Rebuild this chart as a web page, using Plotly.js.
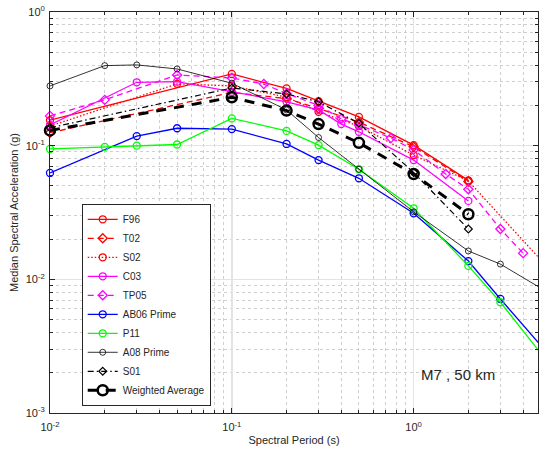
<!DOCTYPE html>
<html>
<head>
<meta charset="utf-8">
<script src="https://cdn.plot.ly/plotly-3.0.1.min.js"></script>
<style>html,body{margin:0;padding:0;background:#fff;}#chart{width:539px;height:454px;}</style>
</head>
<body>
<div id="chart"></div>
<script>
// ---- Data ----
var T_F96 = [0.01, 0.1, 0.2, 0.3, 0.5, 1, 2];
var SA_F96 = [0.155, 0.344, 0.268, 0.215, 0.164, 0.101, 0.055];

var T_T02 = [0.01, 0.1, 0.2, 0.3, 0.5, 1, 2];
var SA_T02 = [0.125, 0.25, 0.225, 0.19, 0.15, 0.098, 0.054];

var T_S02 = [0.01, 0.05, 0.1, 0.2, 0.3, 0.5, 1, 2, 5];
var SA_S02 = [0.14, 0.29, 0.28, 0.231, 0.179, 0.14, 0.085, 0.0544, 0.014];

var T_C03 = [0.01, 0.03, 0.05, 0.1, 0.2, 0.3, 0.4, 0.5, 1, 2];
var SA_C03 = [0.143, 0.298, 0.301, 0.252, 0.213, 0.185, 0.145, 0.127, 0.078, 0.0386];

var T_TP05 = [0.01, 0.02, 0.05, 0.1, 0.15, 0.2, 0.3, 0.4, 0.5, 0.75, 1, 1.5, 2, 3, 4];
var SA_TP05 = [0.167, 0.22, 0.338, 0.321, 0.289, 0.246, 0.20, 0.159, 0.143, 0.114, 0.093, 0.0614, 0.0472, 0.0238, 0.0157];

var T_AB06 = [0.01, 0.03, 0.05, 0.1, 0.2, 0.3, 0.5, 1, 2, 3, 5];
var SA_AB06 = [0.0625, 0.118, 0.135, 0.133, 0.103, 0.078, 0.057, 0.0312, 0.0137, 0.00713, 0.0032];

var T_P11 = [0.01, 0.02, 0.03, 0.05, 0.1, 0.2, 0.3, 0.5, 1, 2, 3, 5];
var SA_P11 = [0.0945, 0.098, 0.1, 0.102, 0.16, 0.129, 0.101, 0.0666, 0.034, 0.0126, 0.00674, 0.0028];

var T_A08 = [0.01, 0.02, 0.03, 0.05, 0.1, 0.2, 0.3, 0.5, 1, 2, 3, 5];
var SA_A08 = [0.28, 0.397, 0.402, 0.375, 0.293, 0.185, 0.115, 0.0666, 0.032, 0.0163, 0.013, 0.0086];

var T_S01 = [0.01, 0.1, 0.2, 0.3, 0.5, 1, 2];
var SA_S01 = [0.136, 0.27, 0.244, 0.213, 0.147, 0.063, 0.0238];

var T_WA = [0.01, 0.1, 0.2, 0.3, 0.5, 1, 2];
var SA_WA = [0.13, 0.23, 0.183, 0.145, 0.105, 0.0614, 0.0307];

var xTickVals = [0.01, 0.1, 1];
var xTickText = ['10<sup>-2</sup>', '10<sup>-1</sup>', '10<sup>0</sup>'];
var yTickVals = [0.001, 0.01, 0.1, 1];
var yTickText = ['10<sup>-3</sup>', '10<sup>-2</sup>', '10<sup>-1</sup>', '10<sup>0</sup>'];
var annotationText = 'M7 , 50 km';

// ---- Build ----
function minorTicks(decades) {
  var out = [];
  decades.forEach(function (d) { for (var k = 2; k <= 9; k++) out.push(k * d); });
  return out;
}

var FONT = 'Liberation Sans, Arial, Helvetica, sans-serif';
var TXT = '#262626';

function tr(name, x, y, color, dash, symbol, lw, msize, mlw) {
  return {
    type: 'scatter', mode: 'lines+markers', name: name, x: x, y: y,
    cliponaxis: false,
    line: {color: color, width: lw, dash: dash},
    marker: {symbol: symbol, size: msize, color: color, line: {color: color, width: mlw}}
  };
}

var data = [
  tr('F96', T_F96, SA_F96, '#ff0000', 'solid', 'circle-open', 1.3, 7, 1.3),
  tr('T02', T_T02, SA_T02, '#ff0000', '6px,4px', 'diamond-open', 1.3, 7, 1.3),
  tr('S02', T_S02, SA_S02, '#ff0000', '1.5px,2px', 'circle-open', 1.3, 7, 1.3),
  tr('C03', T_C03, SA_C03, '#ff00ff', 'solid', 'circle-open', 1.3, 7, 1.3),
  tr('TP05', T_TP05, SA_TP05, '#ff00ff', '6px,4px', 'diamond-open', 1.3, 7, 1.3),
  tr('AB06 Prime', T_AB06, SA_AB06, '#0000ff', 'solid', 'circle-open', 1.3, 7, 1.3),
  tr('P11', T_P11, SA_P11, '#00ff00', 'solid', 'circle-open', 1.3, 7, 1.3),
  tr('A08 Prime', T_A08, SA_A08, '#000000', 'solid', 'circle-open', 0.8, 6, 0.8),
  tr('S01', T_S01, SA_S01, '#000000', '6px,3px,1.5px,3px', 'diamond-open', 1.2, 6, 1.2),
  tr('Weighted Average', T_WA, SA_WA, '#000000', '10px,8px', 'circle-open', 3, 10, 2.5)
];

var axisCommon = {
  type: 'log',
  showline: true, linecolor: TXT, linewidth: 1, mirror: 'ticks',
  ticks: 'inside', ticklen: 5, tickcolor: TXT, tickwidth: 1,
  tickmode: 'array',
  showgrid: true, gridcolor: '#e3e3e3', gridwidth: 1.5,
  zeroline: false,
  tickfont: {family: FONT, size: 11, color: TXT},
  automargin: false
};

var layout = {
  width: 539, height: 454,
  margin: {l: 50, r: 1, t: 12, b: 41},
  paper_bgcolor: '#ffffff', plot_bgcolor: '#ffffff',
  font: {family: FONT, color: TXT},
  showlegend: true,
  xaxis: Object.assign({}, axisCommon, {
    range: [-2, 0.684],
    tickvals: xTickVals, ticktext: xTickText,
    ticklabelstandoff: 4,
    minor: {tickmode: 'array', tickvals: minorTicks([0.01, 0.1, 1]), ticks: 'inside', ticklen: 3,
            tickcolor: TXT, showgrid: true, griddash: 'dot', gridcolor: '#cfcfcf', gridwidth: 1},
    title: {text: 'Spectral Period (s)', font: {family: FONT, size: 11, color: TXT}, standoff: 4}
  }),
  yaxis: Object.assign({}, axisCommon, {
    range: [-3, 0],
    tickvals: yTickVals, ticktext: yTickText,
    ticklabelstandoff: 2,
    minor: {tickmode: 'array', tickvals: minorTicks([0.001, 0.01, 0.1]), ticks: 'inside', ticklen: 3,
            tickcolor: TXT, showgrid: true, griddash: 'dot', gridcolor: '#cfcfcf', gridwidth: 1},
    title: {text: 'Median Spectral Acceleration (g)', font: {family: FONT, size: 11, color: TXT}, standoff: 4}
  }),
  legend: {
    x: 0.065, y: 0.018, xanchor: 'left', yanchor: 'bottom',
    bgcolor: '#ffffff', bordercolor: TXT, borderwidth: 1,
    font: {family: FONT, size: 10, color: TXT},
    tracegroupgap: 0, itemwidth: 30
  },
  annotations: [{
    xref: 'paper', yref: 'paper', x: 0.756, y: 0.097, xanchor: 'left', yanchor: 'middle',
    text: annotationText, showarrow: false,
    font: {family: FONT, size: 15, color: TXT}
  }]
};

Plotly.newPlot('chart', data, layout, {staticPlot: true, displayModeBar: false});
</script>
</body>
</html>
